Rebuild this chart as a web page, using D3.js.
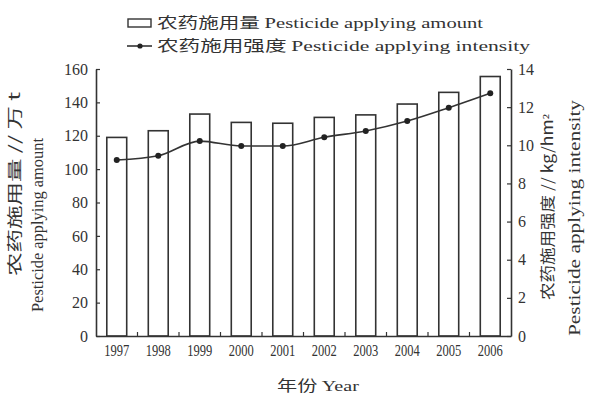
<!DOCTYPE html>
<html>
<head>
<meta charset="utf-8">
<script src="https://cdn.jsdelivr.net/npm/d3@7/dist/d3.min.js"></script>
<style>
  html, body { margin: 0; padding: 0; background: #fff; }
  svg { display: block; }
  text { fill: #333; }
</style>
</head>
<body>
<svg id="chart" width="589" height="396"></svg>
<script>
// Pesticide use in China, 1997-2006
const years = ["1997", "1998", "1999", "2000", "2001", "2002", "2003", "2004", "2005", "2006"];
const amount = [119, 123, 133, 128, 127.5, 131, 132.5, 139, 146, 155.5];      // 万 t
const intensity = [9.23, 9.45, 10.22, 9.96, 9.96, 10.42, 10.75, 11.27, 11.97, 12.73]; // kg/hm²
const leftTicks = [0, 20, 40, 60, 80, 100, 120, 140, 160];
const rightTicks = [0, 2, 4, 6, 8, 10, 12, 14];

const serif = "'Liberation Serif', 'DejaVu Serif', serif";
const cjk = "'Noto Sans CJK SC', sans-serif";
const ink = "#333";

const svg = d3.select("#chart");
const m = { left: 96, right: 511, top: 69, bottom: 336 };

const x = d3.scaleBand().domain(years).range([m.left, m.right]).paddingInner(0.52).paddingOuter(0.26);
const yL = d3.scaleLinear().domain([0, 160]).range([m.bottom, m.top]);
const yR = d3.scaleLinear().domain([0, 14]).range([m.bottom, m.top]);

// bars
svg.append("g").selectAll("rect").data(years).join("rect")
  .attr("x", d => x(d))
  .attr("y", (d, i) => yL(amount[i]))
  .attr("width", x.bandwidth())
  .attr("height", (d, i) => yL(0) - yL(amount[i]))
  .attr("fill", "#fff")
  .attr("stroke", ink)
  .attr("stroke-width", 1.6);

// intensity line
const cx = d => x(d) + x.bandwidth() / 2;
const line = d3.line().x((d, i) => cx(years[i])).y(d => yR(d)).curve(d3.curveMonotoneX);
svg.append("path").datum(intensity)
  .attr("d", line).attr("fill", "none").attr("stroke", ink).attr("stroke-width", 1.6);
svg.append("g").selectAll("circle").data(intensity).join("circle")
  .attr("cx", (d, i) => cx(years[i])).attr("cy", d => yR(d)).attr("r", 3).attr("fill", "#222");

// axes
function styleAxis(g, size) {
  g.selectAll("path.domain").attr("stroke", ink).attr("stroke-width", 1.6);
  g.selectAll(".tick line").attr("stroke", ink).attr("stroke-width", 1.2);
  g.selectAll("text").attr("font-family", serif).attr("font-size", size).attr("fill", ink);
}
const gl = svg.append("g").attr("transform", `translate(${m.left},0)`)
  .call(d3.axisLeft(yL).tickValues(leftTicks).tickSizeInner(-4).tickSizeOuter(0).tickPadding(8));
styleAxis(gl, 16);
const gr = svg.append("g").attr("transform", `translate(${m.right},0)`)
  .call(d3.axisRight(yR).tickValues(rightTicks).tickSizeInner(-4).tickSizeOuter(0).tickPadding(7));
styleAxis(gr, 16);
const gb = svg.append("g").attr("transform", `translate(0,${m.bottom})`)
  .call(d3.axisBottom(x).tickSize(0).tickPadding(9));
styleAxis(gb, 16);
gb.selectAll(".tick text").attr("textLength", 25).attr("lengthAdjust", "spacingAndGlyphs");
// short inward ticks on the category boundaries
const edges = years.slice(1).map(d => x(d) - x.step() * x.paddingInner() / 2);
gb.selectAll("line.edge").data(edges).join("line").attr("class", "edge")
  .attr("x1", d => d).attr("x2", d => d).attr("y1", 0).attr("y2", -4)
  .attr("stroke", ink).attr("stroke-width", 1.2);

// axis titles
function title(tx, ty, parts, len, size) {
  const t = svg.append("text")
    .attr("transform", `translate(${tx},${ty}) rotate(-90)`)
    .attr("text-anchor", "middle").attr("font-size", size);
  parts.forEach(p => t.append("tspan").attr("font-family", p.f).text(p.s));
  if (len) t.attr("textLength", len).attr("lengthAdjust", "spacingAndGlyphs");
  return t;
}
title(20, 184, [{ f: cjk, s: "农药施用量 // 万 t" }], 184, 15);
title(43, 225, [{ f: serif, s: "Pesticide applying amount" }], 174, 16);
title(553, 207, [{ f: cjk, s: "农药施用强度 // kg/hm" }, { f: serif, s: "²" }], 186, 15);
title(580, 218, [{ f: serif, s: "Pesticide applying intensity" }], 236, 16);

const xt = svg.append("text").attr("x", 318).attr("y", 391).attr("text-anchor", "middle")
  .attr("font-size", 15).attr("textLength", 82).attr("lengthAdjust", "spacingAndGlyphs");
xt.append("tspan").attr("font-family", cjk).text("年份 ");
xt.append("tspan").attr("font-family", serif).text("Year");

// legend
const lg = svg.append("g");
lg.append("rect").attr("x", 128).attr("y", 19).attr("width", 23).attr("height", 8)
  .attr("fill", "#fff").attr("stroke", ink).attr("stroke-width", 1.4);
lg.append("line").attr("x1", 127).attr("x2", 152).attr("y1", 46).attr("y2", 46)
  .attr("stroke", ink).attr("stroke-width", 1.6);
lg.append("circle").attr("cx", 140).attr("cy", 46).attr("r", 2.6).attr("fill", "#222");
const legendText = [
  { y: 28, cn: "农药施用量 ", en: "Pesticide applying amount", len: 326 },
  { y: 51, cn: "农药施用强度 ", en: "Pesticide applying intensity", len: 373 }
];
legendText.forEach(d => {
  const t = lg.append("text").attr("x", 157).attr("y", d.y).attr("font-size", 15)
    .attr("textLength", d.len).attr("lengthAdjust", "spacingAndGlyphs");
  t.append("tspan").attr("font-family", cjk).text(d.cn);
  t.append("tspan").attr("font-family", serif).text(d.en);
});
</script>
</body>
</html>
